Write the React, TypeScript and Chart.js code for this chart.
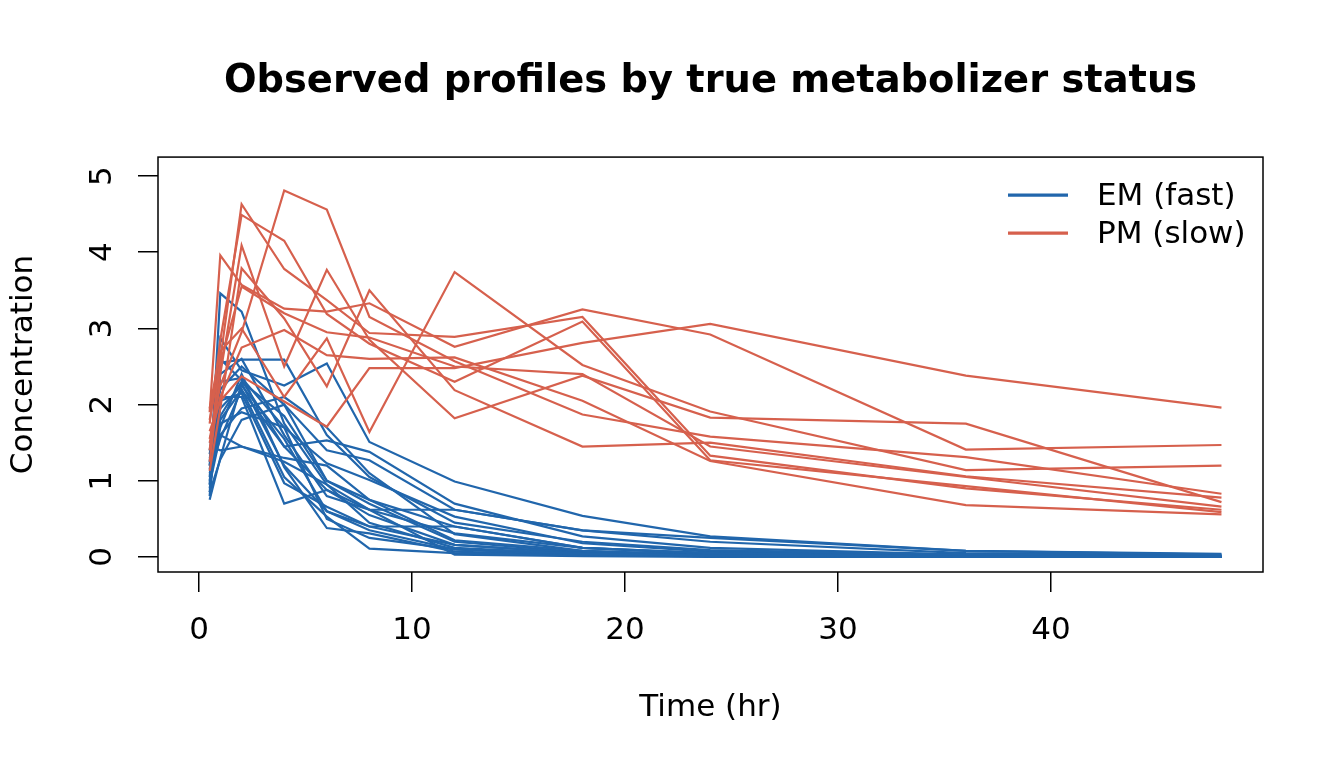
import { useEffect, useRef } from "react";
import { Chart, registerables } from "chart.js";

Chart.register(...registerables);

// sampling times (hr)
const times = [0.5, 1, 2, 4, 6, 8, 12, 18, 24, 36, 48];

// extensive metabolizers, one row per subject
const emProfiles = [
	[0.95, 3.46, 3.22, 1.75, 0.95, 0.45, 0.12, 0.04, 0.02, 0.01, 0.01],
	[1.2, 2.87, 2.45, 2.25, 2.54, 1.51, 0.99, 0.54, 0.27, 0.08, 0.03],
	[1.05, 2.55, 2.59, 2.59, 1.6, 1.05, 0.45, 0.2, 0.09, 0.03, 0.01],
	[0.75, 1.3, 2.28, 1.2, 0.6, 0.35, 0.1, 0.03, 0.01, 0.0, 0.0],
	[1.58, 1.6, 1.45, 1.25, 0.95, 0.62, 0.62, 0.35, 0.2, 0.05, 0.02],
	[1.3, 1.8, 2.19, 1.45, 1.53, 1.38, 0.7, 0.27, 0.12, 0.03, 0.01],
	[0.85, 2.1, 2.1, 0.7, 0.88, 0.62, 0.31, 0.12, 0.05, 0.01, 0.0],
	[1.4, 2.3, 2.35, 1.7, 1.23, 1.01, 0.53, 0.18, 0.07, 0.02, 0.01],
	[1.1, 1.55, 2.2, 1.05, 0.53, 0.11, 0.05, 0.02, 0.01, 0.0, 0.0],
	[0.9, 1.85, 2.3, 1.85, 1.0, 0.75, 0.4, 0.12, 0.04, 0.01, 0.0],
	[1.2, 2.05, 2.15, 0.97, 0.66, 0.4, 0.16, 0.05, 0.02, 0.0, 0.0],
	[1.0, 1.7, 2.4, 1.18, 0.38, 0.31, 0.07, 0.02, 0.01, 0.0, 0.0],
	[1.45, 1.4, 1.45, 1.3, 1.2, 0.75, 0.22, 0.08, 0.03, 0.01, 0.0],
	[0.8, 2.4, 2.6, 1.6, 0.8, 0.62, 0.03, 0.01, 0.0, 0.0, 0.0],
	[1.35, 2.2, 2.5, 2.0, 1.4, 1.27, 0.62, 0.35, 0.25, 0.08, 0.04],
	[1.15, 1.95, 2.25, 1.55, 0.6, 0.4, 0.4, 0.12, 0.05, 0.02, 0.01],
	[0.95, 1.6, 1.95, 2.1, 1.7, 1.1, 0.3, 0.08, 0.02, 0.01, 0.0],
	[1.25, 2.6, 2.32, 1.45, 0.88, 0.55, 0.16, 0.05, 0.02, 0.0, 0.0],
	[1.5, 1.75, 1.9, 1.7, 0.5, 0.25, 0.1, 0.03, 0.01, 0.0, 0.0],
	[0.85, 1.28, 1.8, 2.0, 1.0, 0.7, 0.2, 0.06, 0.02, 0.01, 0.0],
];

// poor metabolizers
const pmProfiles = [
	[1.55, 2.25, 2.95, 4.81, 4.56, 3.15, 2.57, 1.87, 1.58, 1.31, 0.83],
	[1.9, 3.96, 3.57, 3.26, 3.22, 3.33, 2.76, 3.25, 2.92, 1.41, 1.47],
	[1.65, 2.05, 2.37, 2.04, 1.71, 2.48, 2.48, 2.81, 3.06, 2.38, 1.96],
	[1.4, 2.6, 4.63, 3.78, 3.37, 2.94, 2.89, 3.15, 1.33, 0.9, 0.62],
	[1.75, 2.85, 4.49, 4.15, 3.19, 2.8, 2.3, 3.09, 1.27, 0.93, 0.59],
	[1.25, 2.4, 4.09, 2.5, 3.77, 2.85, 1.82, 2.38, 1.83, 1.75, 0.72],
	[1.95, 2.7, 3.0, 2.1, 2.87, 1.64, 3.74, 2.52, 1.91, 1.14, 1.2],
	[1.13, 1.95, 3.79, 3.13, 2.24, 3.5, 2.19, 1.45, 1.5, 1.06, 0.78],
	[1.5, 2.1, 2.75, 2.98, 2.65, 2.6, 2.62, 2.05, 1.26, 0.68, 0.56],
	[1.8, 2.55, 3.55, 3.2, 2.95, 2.88, 2.5, 2.4, 1.45, 1.05, 0.66],
];

const xTicks = [0, 10, 20, 30, 40];
const yTicks = [0, 1, 2, 3, 4, 5];
const groupNames = ["EM (fast)", "PM (slow)"];
const groupColors = ["#2166AC", "#D6604D"];

const FONT = "'DejaVu Sans', sans-serif";

const toPoints = (vals: number[]) => times.map((t, i) => ({ x: t, y: vals[i] }));

// box, rotated y labels and the legend, like base R graphics
const basePlot = {
	id: "basePlot",
	afterDraw(chart: any) {
		const { ctx, chartArea: a, scales } = chart;
		ctx.save();
		ctx.strokeStyle = "#000";
		ctx.lineWidth = 1.5;
		ctx.strokeRect(a.left, a.top, a.right - a.left, a.bottom - a.top);

		ctx.fillStyle = "#000";
		ctx.font = `31px ${FONT}`;
		ctx.textAlign = "center";
		ctx.textBaseline = "alphabetic";
		scales.y.ticks.forEach((t: any) => {
			const y = scales.y.getPixelForValue(t.value);
			ctx.save();
			ctx.translate(a.left - 47, y);
			ctx.rotate(-Math.PI / 2);
			ctx.fillText(String(t.value), 0, 0);
			ctx.restore();
		});

		ctx.textAlign = "left";
		groupNames.forEach((name, i) => {
			const y = a.top + 38 + i * 38;
			ctx.strokeStyle = groupColors[i];
			ctx.lineWidth = 3.3;
			ctx.beginPath();
			ctx.moveTo(a.right - 255, y);
			ctx.lineTo(a.right - 195, y);
			ctx.stroke();
			ctx.fillText(name, a.right - 166, y + 10);
		});
		ctx.restore();
	},
};

const App = () => {
	const chartRef = useRef<HTMLCanvasElement | null>(null);

	useEffect(() => {
		const datasets = [
			...emProfiles.map((p, i) => ({
				label: `${groupNames[0]} ${i + 1}`,
				data: toPoints(p),
				borderColor: groupColors[0],
				borderWidth: 2.2,
				pointRadius: 0,
				fill: false,
				order: 1,
			})),
			...pmProfiles.map((p, i) => ({
				label: `${groupNames[1]} ${i + 1}`,
				data: toPoints(p),
				borderColor: groupColors[1],
				borderWidth: 2.2,
				pointRadius: 0,
				fill: false,
				order: 0,
			})),
		];

		const tickFont = { family: FONT, size: 31 };
		const myChart = new Chart(chartRef.current, {
			type: "line",
			data: { datasets },
			options: {
				animation: false,
				responsive: false,
				layout: { padding: { left: 0, right: 81, top: 0, bottom: 0 } },
				scales: {
					x: {
						type: "linear",
						min: -1.925,
						max: 49.95,
						afterBuildTicks: (s: any) => {
							s.ticks = xTicks.map((v) => ({ value: v }));
						},
						afterFit: (s: any) => {
							s.height = 196;
						},
						border: { display: false },
						grid: { drawOnChartArea: false, drawTicks: true, tickLength: 20, color: "#000", lineWidth: 1.5 },
						ticks: { font: tickFont, color: "#000", padding: 20, maxRotation: 0 },
						title: { display: true, text: "Time (hr)", font: tickFont, color: "#000", padding: { top: 0, bottom: 41 } },
					},
					y: {
						type: "linear",
						min: -0.197,
						max: 5.249,
						afterBuildTicks: (s: any) => {
							s.ticks = yTicks.map((v) => ({ value: v }));
						},
						afterFit: (s: any) => {
							s.width = 158;
						},
						border: { display: false },
						grid: { drawOnChartArea: false, drawTicks: true, tickLength: 20, color: "#000", lineWidth: 1.5 },
						ticks: { display: false },
						title: { display: true, text: "Concentration", font: tickFont, color: "#000", padding: { top: 5, bottom: 0 } },
					},
				},
				plugins: {
					legend: { display: false },
					tooltip: { enabled: false },
					title: {
						display: true,
						text: "Observed profiles by true metabolizer status",
						fullSize: false,
						color: "#000",
						font: { family: FONT, size: 38.4, weight: "bold" },
						padding: { top: 59, bottom: 52 },
					},
				},
			},
			plugins: [basePlot],
		});

		return () => {
			myChart.destroy();
		};
	}, []);

	return (
		<div style={{ position: "fixed", left: 0, top: 0, width: 1344, height: 768, background: "#fff" }}>
			<canvas ref={chartRef} width={1344} height={768} />
		</div>
	);
};

export default App;
